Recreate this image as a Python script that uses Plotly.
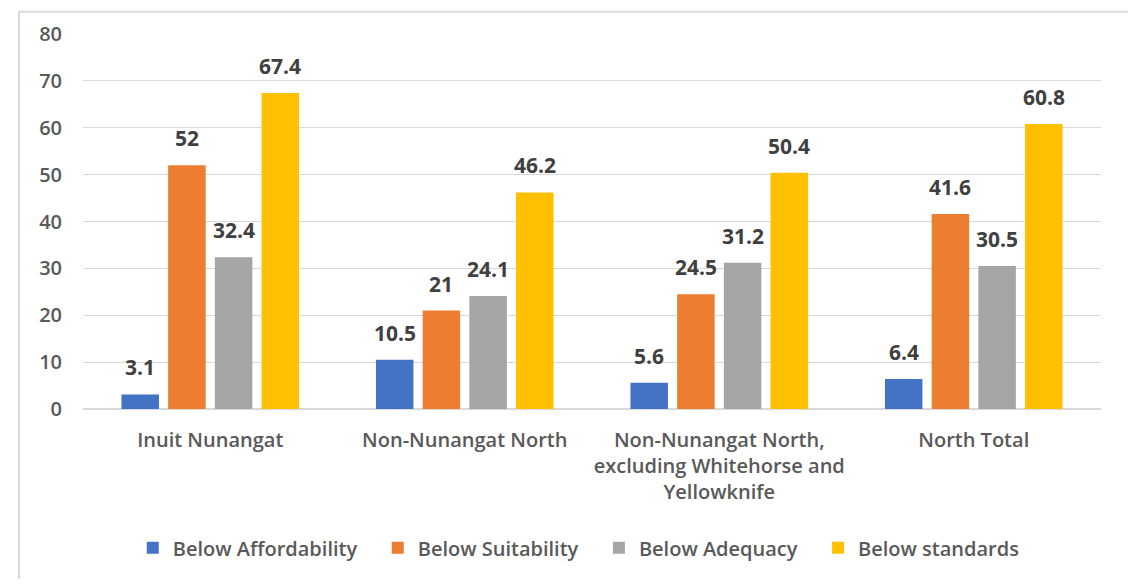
import plotly.graph_objects as go

categories = ["Inuit Nunangat", "Non-Nunangat North",
              "Non-Nunangat North,<br>excluding Whitehorse and<br>Yellowknife", "North Total"]
series_names = ["Below Affordability", "Below Suitability", "Below Adequacy", "Below standards"]
affordability = [3.1, 10.5, 5.6, 6.4]
suitability = [52, 21, 24.5, 41.6]
adequacy = [32.4, 24.1, 31.2, 30.5]
standards = [67.4, 46.2, 50.4, 60.8]
colors = ["#4472C4", "#ED7D31", "#A5A5A5", "#FFC000"]
y_ticks = [0, 10, 20, 30, 40, 50, 60, 70, 80]

FONT = "Open Sans"
W, H = 1128, 571
ML, MR, MT, MB = 75, 35, 24, 169
BARGAP, GROUPGAP = 0.266, 0.197

all_series = [affordability, suitability, adequacy, standards]
n = len(all_series)

fig = go.Figure()
for i, (name, vals, col) in enumerate(zip(series_names, all_series, colors)):
    label = name + ("\u00a0" * 3 if i < n - 1 else "")
    fig.add_trace(go.Bar(
        x=categories, y=vals, name=label, marker=dict(color=col, line=dict(width=0)),
        hoverinfo="x+y",
    ))

# data labels placed above each bar
plot_w = W - ML - MR
plot_h = H - MT - MB
slot_px = plot_w / len(categories) * (1 - BARGAP) / n
annotations = []
for i, vals in enumerate(all_series):
    shift = (i - (n - 1) / 2) * slot_px
    for c, v in zip(categories, vals):
        annotations.append(dict(
            x=c, y=v, xref="x", yref="y", text=f"<b>{v}</b>", showarrow=False,
            xanchor="center", yanchor="bottom", xshift=shift, yshift=11,
            font=dict(family=FONT, size=21, color="#404040"),
        ))

fig.update_layout(
    width=W, height=H,
    margin=dict(l=ML, r=MR, t=MT, b=MB),
    paper_bgcolor="white", plot_bgcolor="white",
    barmode="group", bargap=BARGAP, bargroupgap=GROUPGAP,
    font=dict(family=FONT, color="#595959"),
    showlegend=True,
    annotations=annotations,
    legend=dict(orientation="h", x=0.487, xanchor="center", y=-0.37, yanchor="middle",
                font=dict(family=FONT, size=20, color="#595959", weight=600),
                itemwidth=30, traceorder="normal"),
    xaxis=dict(tickfont=dict(family=FONT, size=20, color="#595959", weight=600),
               showline=False, ticks="", ticklabelstandoff=17),
    yaxis=dict(range=[0, 80], tickvals=y_ticks, showgrid=True, gridcolor="#D9D9D9",
               gridwidth=1, zeroline=True, zerolinecolor="#D9D9D9", zerolinewidth=2,
               tickfont=dict(family=FONT, size=20, color="#595959", weight=600),
               ticks="", ticklabelstandoff=20),
    shapes=[dict(type="rect", xref="paper", yref="paper",
                 x0=(11 - ML) / plot_w, x1=(W - 7 - ML) / plot_w,
                 y0=-(MB + 20) / plot_h, y1=(H - MB - 1.5) / plot_h,
                 line=dict(color="#D9D9D9", width=2), fillcolor="rgba(0,0,0,0)",
                 layer="below")],
)
fig.write_html("out.html")
